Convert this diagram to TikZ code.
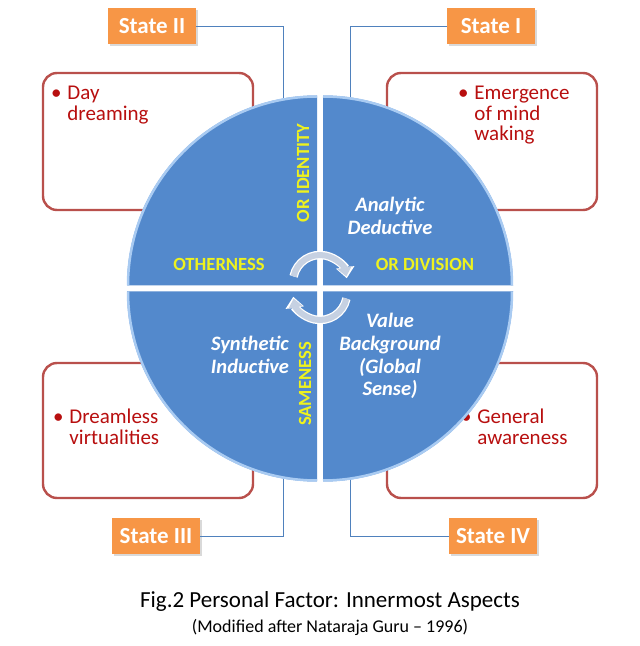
\documentclass[tikz,border=0pt]{standalone}
\usepackage{fontspec}
\setmainfont{Carlito}
\usepackage{xcolor}
\usetikzlibrary{arrows.meta, positioning, calc, shadows}
\definecolor{statefill}{HTML}{F79646}
\definecolor{quadfill}{HTML}{5389CC}
\definecolor{quadrim}{HTML}{A9CBF2}
\definecolor{boxline}{HTML}{B9504C}
\definecolor{itemred}{HTML}{B80F0F}
\definecolor{labyellow}{HTML}{EEF21E}
\definecolor{linkblue}{HTML}{4F81BD}
\definecolor{cycgray}{HTML}{C6D1E2}

\begin{document}
\begin{tikzpicture}[x=1pt, y=1pt,
  statebox/.style={fill=statefill, text=white, font=\fontsize{23}{26}\selectfont\bfseries,
                   minimum width=88pt, minimum height=36pt, inner sep=0pt,
                   drop shadow={opacity=0.3, shadow xshift=1.5pt, shadow yshift=-2pt}},
  itembox/.style={draw=boxline, line width=2.4pt, rounded corners=14pt, fill=white,
                  minimum width=210pt, minimum height=137pt, inner sep=0pt},
  itemtext/.style={anchor=north west, text=itemred, font=\fontsize{21}{20.5}\selectfont, inner sep=0pt},
  quad/.style={fill=quadfill},
  rim/.style={draw=quadrim, line width=2.5pt},
  axis/.style={text=labyellow, font=\fontsize{18.6}{20}\selectfont\bfseries, inner sep=0pt},
  aspect/.style={text=white, font=\fontsize{20.5}{22.7}\selectfont\bfseries\itshape, align=center, inner sep=0pt},
  link/.style={draw=linkblue, line width=0.9pt},
  cycle/.style={line width=6pt, cycgray, -{Triangle[length=9pt, width=14pt]}},
  cycleedge/.style={line width=8.5pt, white, -{Triangle[length=11pt, width=18pt]}}
]
  \useasboundingbox (0,0) rectangle (640,646);

  % states
  \node[statebox] (s2) at (152,620) {State II};
  \node[statebox] (s1) at (491,620) {State I};
  \node[statebox] (s3) at (156,110) {State III};
  \node[statebox] (s4) at (493,110) {State IV};

  % points where the links meet the circle
  \coordinate (c2) at (283,547);
  \coordinate (c1) at (350,549);
  \coordinate (c3) at (283,168);
  \coordinate (c4) at (350,167);
  \draw[link] (s2.east) -| (c2);
  \draw[link] (s1.west) -| (c1);
  \draw[link] (s3.east) -| (c3);
  \draw[link] (s4.west) -| (c4);

  % boxes behind the circle
  \node[itembox] (b2) at (148,504.5) {};
  \node[itembox] (b1) at (492,504.5) {};
  \node[itembox, minimum height=135pt] (b3) at (148,215.5) {};
  \node[itembox, minimum height=135pt] (b4) at (492,215.5) {};

  \node[itemtext] (t2) at ([shift={(9,-13)}]b2.north west)
    {\begin{tabular}[t]{@{}l@{\hspace{6pt}}l@{}}\textbullet & Day\\ & dreaming\end{tabular}};
  \node[itemtext] (t1) at ([shift={(72,-13)}]b1.north west)
    {\begin{tabular}[t]{@{}l@{\hspace{6pt}}l@{}}\textbullet & Emergence\\ & of mind\\ & waking\end{tabular}};
  \node[itemtext] (t3) at ([shift={(11,-47)}]b3.north west)
    {\begin{tabular}[t]{@{}l@{\hspace{6pt}}l@{}}\textbullet & Dreamless\\ & virtualities\end{tabular}};
  \node[itemtext] (t4) at ([shift={(75,-47)}]b4.north west)
    {\begin{tabular}[t]{@{}l@{\hspace{6pt}}l@{}}\textbullet & General\\ & awareness\end{tabular}};

  % four quadrants
  \fill[quad] (323,360.5) -- ++(190,0) arc[start angle=0, end angle=90, radius=190] -- cycle;
  \fill[quad] (317,360.5) -- ++(0,190) arc[start angle=90, end angle=180, radius=190] -- cycle;
  \fill[quad] (317,354.5) -- ++(-190,0) arc[start angle=180, end angle=270, radius=190] -- cycle;
  \fill[quad] (323,354.5) -- ++(0,-190) arc[start angle=270, end angle=360, radius=190] -- cycle;
  \draw[rim] (512,360.5) arc[start angle=0, end angle=90, radius=189];
  \draw[rim] (317,549.5) arc[start angle=90, end angle=180, radius=189];
  \draw[rim] (128,354.5) arc[start angle=180, end angle=270, radius=189];
  \draw[rim] (323,165.5) arc[start angle=270, end angle=360, radius=189];

  % axis labels
  \node[axis, rotate=90] (idn) at (303,473) {OR IDENTITY};
  \node[axis] (oth) at (219,382) {OTHERNESS};
  \node[axis] (div) at (425,382) {OR DIVISION};
  \node[axis, rotate=90] (sam) at (305,262) {SAMENESS};

  \node[aspect] (ana) at (390,430) {Analytic\\Deductive};
  \node[aspect] (syn) at (250,291) {Synthetic\\Inductive};
  \node[aspect] (val) at (390,290) {Value\\Background\\(Global\\Sense)};

  % cycle arrows round the centre
  \coordinate (up) at (320,364);
  \coordinate (dn) at (320,353);
  \draw[cycleedge] ($(up)+(168:27)$) arc[start angle=168, end angle=8, radius=27];
  \draw[cycle] ($(up)+(168:27)$) arc[start angle=168, end angle=12, radius=27];
  \draw[cycleedge] ($(dn)+(-12:27)$) arc[start angle=-12, end angle=-172, radius=27];
  \draw[cycle] ($(dn)+(-12:27)$) arc[start angle=-12, end angle=-168, radius=27];

  % caption
  \node[font=\fontsize{23}{26}\selectfont] (cap) at (330,45) {Fig.2 Personal Factor: Innermost Aspects};
  \node[font=\fontsize{18}{20}\selectfont, below=1pt of cap] (src) {(Modified after Nataraja Guru -- 1996)};
\end{tikzpicture}
\end{document}
